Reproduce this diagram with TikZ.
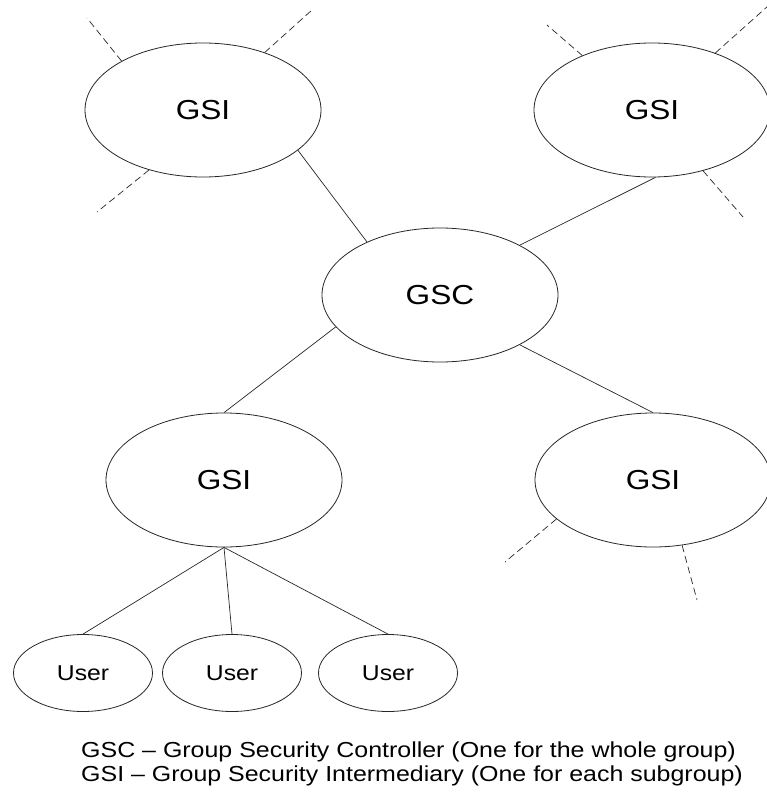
\documentclass[tikz,border=0pt]{standalone}
\usepackage{fontspec}
\setmainfont{Liberation Sans}[FakeStretch=1.15]
\usetikzlibrary{shapes.geometric}
\begin{document}
\begin{tikzpicture}[x=1pt,y=-1pt,
  bignode/.style={ellipse,draw=black!85,line width=0.8pt,minimum width=236pt,minimum height=134pt,inner sep=0pt,font=\fontsize{27.5}{33}\selectfont},
  usernode/.style={ellipse,draw=black!85,line width=0.8pt,minimum width=139pt,minimum height=77pt,inner sep=0pt,font=\fontsize{21.5}{26}\selectfont},
  link/.style={draw=black!85,line width=0.7pt},
  stub/.style={draw=black!85,line width=0.7pt,dash pattern=on 7pt off 4pt},
  legend/.style={anchor=base west,inner sep=0pt,font=\fontsize{21.7}{26}\selectfont}]
\useasboundingbox (0,0) rectangle (766,797);

% main nodes
\node[bignode] (gsiTL) at (203,110) {GSI};
\node[bignode] (gsiTR) at (652,110) {GSI};
\node[bignode] (gsc)   at (440,295) {GSC};
\node[bignode] (gsiBL) at (224,480) {GSI};
\node[bignode] (gsiBR) at (653,480) {GSI};

\node[usernode] (u1) at (83,673)  {User};
\node[usernode] (u2) at (232,673) {User};
\node[usernode] (u3) at (388,673) {User};

% links to the controller
\draw[link] (gsiTL.-23.4) -- (gsc.144.5);
\draw[link] (gsiTR.-87.5) -- (gsc.32);
\draw[link] (gsc.197) -- (gsiBL.north);
\draw[link] (gsc.-32) -- (gsiBR.north);

% users of the subgroup
\draw[link] (gsiBL.south) -- (u1.north);
\draw[link] (gsiBL.south) -- (u2.north);
\draw[link] (gsiBL.south) -- (u3.north);

% free ends of the dashed stubs
\coordinate (tlA) at (87,18);
\coordinate (tlB) at (312,10);
\coordinate (tlC) at (97,212);
\coordinate (trA) at (547,25);
\coordinate (trB) at (768,6);
\coordinate (trC) at (743,217);
\coordinate (brA) at (505,562);
\coordinate (brB) at (697,600);

% further members, not shown
\draw[stub] (gsiTL.149)   -- (tlA);
\draw[stub] (gsiTL.43.5)  -- (tlB);
\draw[stub] (gsiTL.228.9) -- (tlC);
\draw[stub] (gsiTR.142.2) -- (trA);
\draw[stub] (gsiTR.42.1)  -- (trB);
\draw[stub] (gsiTR.-50.6) -- (trC);
\draw[stub] (gsiBR.202.2) -- (brA);
\draw[stub] (gsiBR.-66.9) -- (brB);

% legend
\node[legend] (leg1) at (81,757) {GSC -- Group Security Controller (One for the whole group)};
\node[legend] (leg2) at (81,781) {GSI -- Group Security Intermediary (One for each subgroup)};
\end{tikzpicture}
\end{document}
